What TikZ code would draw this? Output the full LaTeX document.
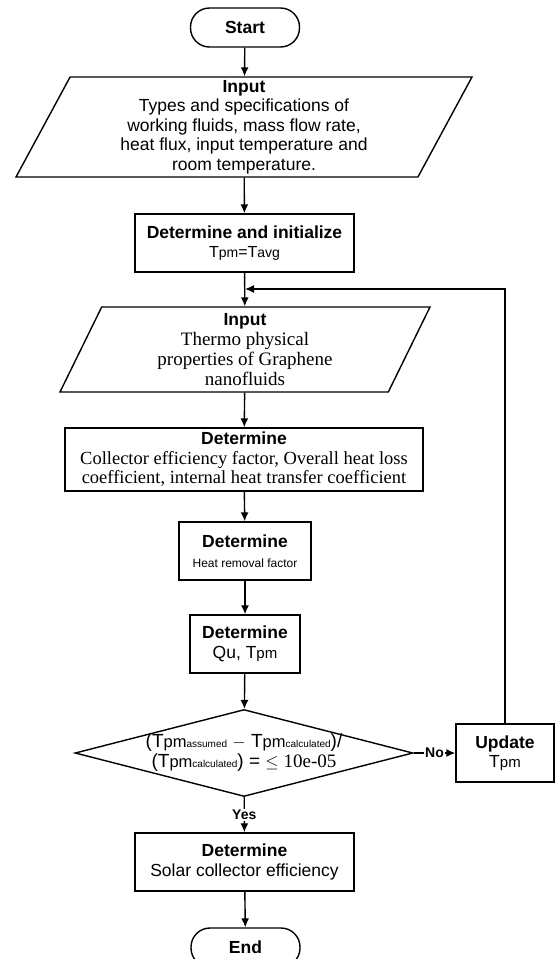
\documentclass[tikz,border=0pt]{standalone}
\usepackage{fontspec}
\setmainfont{Liberation Sans}
\newfontfamily\seriffam{Liberation Serif}
\newfontfamily\sansfam{Liberation Sans}
\usetikzlibrary{arrows.meta}
\usetikzlibrary{shapes.geometric}
\newcommand{\fs}[2]{\fontsize{#1}{#2}\selectfont}
\newcommand{\Tp}[2][14]{T{\fs{#1}{#1}#2}}
\newcommand{\subtxt}{\fs{10}{10}}
\begin{document}
\begin{tikzpicture}[x=1pt, y=-1pt, line width=1.4pt, >={Latex[length=9pt,width=8pt]},
			internal/.style={draw, rectangle, align=center, inner sep=2pt, minimum height=58pt, font=\fs{17.5}{19.5}},
			terminal/.style={draw, rectangle, rounded corners=19pt, minimum width=109pt, minimum height=39pt, font=\fs{17.5}{19.5}\bfseries},
			inout/.style={draw, trapezium, trapezium left angle=60, trapezium right angle=120, trapezium stretches body=true, align=center, inner sep=0pt},
			answer/.style={fill=white, inner sep=1pt, font=\fs{14}{14}\bfseries},
			every text node part/.style={align=center}]
			\useasboundingbox (0,0) rectangle (555,959);
			\node[terminal](node1) at (245, 27.5) {Start};
			
			\node[inout, minimum width=456pt, minimum height=100pt, font=\fs{17.5}{19.5}](node2) at (244, 127) {{\bfseries Input}\\ Types and specifications of\\ working fluids, mass flow rate,\\ heat flux, input temperature and\\ room temperature.};
			\draw[->] (node1) -- (node2);
			
			\node[internal, minimum width=219pt](node3) at (244.5, 243) {{\bfseries Determine and initialize}\\ \fs{16}{18}\Tp{pm}=\Tp{avg}};
			\draw[->] (node2) -- (node3);
			
			\coordinate (loop) at (245, 289);
			\node[inout, minimum width=370pt, minimum height=85pt, font=\seriffam\fs{19}{20}](node4) at (245, 349.5) {{\sansfam\bfseries\fs{17.5}{19.5}Input}\\ Thermo physical\\ properties of Graphene\\ nanofluids};
			\draw[->] (node3) -- (node4);
			
			\node[internal, minimum width=358pt, minimum height=63pt](node5) at (244, 459.5) {{\bfseries Determine}\\ \seriffam\fs{18.5}{20}Collector efficiency factor, Overall heat loss\\ \seriffam\fs{18.5}{20}coefficient, internal heat transfer coefficient};
			\draw[->] (node4) -- (node5);
			
			\node[internal, minimum width=132pt](node6) at (245, 551) {{\bfseries Determine}\\ \fs{12}{15}Heat removal factor};
			\draw[->] (node5) -- (node6);
			
			\node[internal, minimum width=110pt](node7) at (245, 644) {{\bfseries Determine}\\ Qu, \Tp[15]{pm}};
			\draw[->] (node6) -- (node7);
			
			\node[draw, diamond, inner sep=0pt, minimum width=338pt, minimum height=87pt,
				label={[font=\fs{19}{20}, align=center]center:({\Tp[16.5]{pm}}{\subtxt assumed} $-$ {\Tp[16.5]{pm}}{\subtxt calculated})/\\ ({\Tp[16.5]{pm}}{\subtxt calculated}) = {\seriffam $\le$ 10e-05}}](node8) at (244, 753) {};
			\draw[->] (node7) -- (node8);
			
			\node[internal, minimum width=98pt](node9) at (505, 753) {{\bfseries Update}\\ \Tp[15]{pm}};
			\draw[->] (node8) -- node[answer]{No} (node9);
			\draw[->] (node9.north) |- (loop);
			
			\node[internal, minimum width=219pt](node10) at (244.5, 862) {{\bfseries Determine}\\ Solar collector efficiency};
			\draw[->] (node8) -- node[answer]{Yes} (node10);
			
			\node[terminal](node11) at (245.5, 947.5) {End};
			\draw[->] (node10) -- (node11);
			\end{tikzpicture}
\end{document}
